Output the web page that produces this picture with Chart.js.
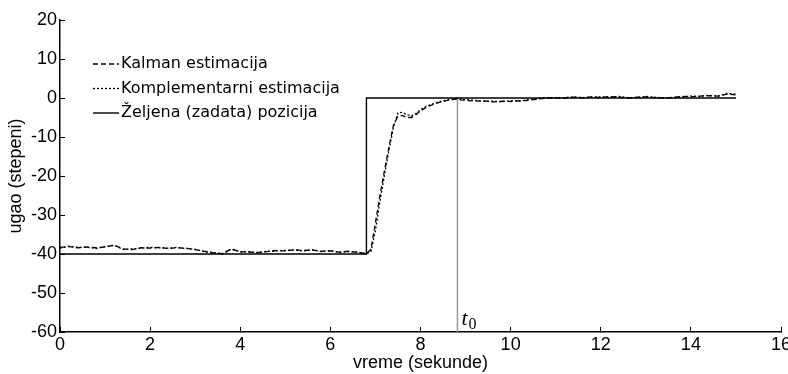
<!DOCTYPE html>
<html>
<head>
<meta charset="utf-8">
<script src="https://cdn.jsdelivr.net/npm/chart.js@4"></script>
<style>
    html, body { margin: 0; padding: 0; background: #fff; }
    #wrap { width: 788px; height: 374px; }
</style>
</head>
<body>
<div id="wrap"><canvas id="grafik"></canvas></div>
<script>
// vreme (s) zajednicko za obe estimacije
const vreme = [
    0, 0.2, 0.4, 0.6, 0.8, 1, 1.2, 1.4, 1.6, 1.8, 2, 2.2, 2.4, 2.6, 2.8, 3, 3.2, 3.4, 3.6, 3.8,
    4, 4.2, 4.4, 4.6, 4.8, 5, 5.2, 5.4, 5.6, 5.8, 6, 6.2, 6.4, 6.6, 6.8,
    6.9, 7, 7.1, 7.2, 7.3, 7.4, 7.5, 7.6, 7.7, 7.8, 7.9, 8, 8.1, 8.2, 8.3, 8.4, 8.5, 8.6, 8.7, 8.8, 8.9, 9,
    9.2, 9.4, 9.6, 9.8, 10, 10.2, 10.4, 10.6, 10.8, 11, 11.2, 11.4, 11.6, 11.8, 12, 12.2, 12.4, 12.6, 12.8,
    13, 13.2, 13.4, 13.6, 13.8, 14, 14.2, 14.4, 14.6, 14.8, 15
];
const kalman = [
    -38.3, -38.1, -38.4, -38.2, -38.4, -38.2, -37.7, -38.7, -38.9, -38.4, -38.5, -38.3, -38.6, -38.4, -38.5, -38.9, -39.3, -39.7, -39.9, -38.7,
    -39.4, -39.5, -39.6, -39.4, -39.1, -39.2, -38.9, -39.1, -39.0, -39.3, -39.2, -39.5, -39.3, -39.6, -39.9,
    -38.8, -32.0, -25.0, -18.6, -12.6, -7.0, -4.6, -4.5, -5.0, -5.0, -4.3, -3.3, -2.6, -2.0, -1.6, -1.2, -0.9, -0.6, -0.4, -0.3, -0.5, -0.6,
    -0.8, -0.7, -1.0, -0.8, -0.9, -0.7, -0.6, -0.3, 0.0, 0.1, -0.1, 0.2, 0.1, 0.3, 0.1, 0.4, 0.2, 0.0, 0.2,
    0.3, 0.1, -0.1, 0.2, 0.4, 0.3, 0.5, 0.6, 0.5, 1.0, 0.8
];
const komplementarni = [
    -38.5, -38.0, -38.3, -38.3, -38.6, -38.1, -37.8, -38.8, -38.7, -38.5, -38.3, -38.4, -38.5, -38.3, -38.6, -38.8, -39.4, -39.6, -40.0, -38.8,
    -39.5, -39.4, -39.7, -39.3, -39.2, -39.1, -39.0, -39.2, -38.9, -39.4, -39.1, -39.6, -39.4, -39.5, -40.0,
    -39.4, -34.0, -26.5, -19.8, -13.4, -7.5, -3.8, -3.7, -4.3, -4.6, -4.0, -3.0, -2.3, -1.8, -1.4, -1.0, -0.7, -0.5, -0.2, -0.1, -0.3, -0.4,
    -0.6, -0.9, -0.8, -1.0, -0.7, -0.8, -0.4, -0.2, 0.1, 0.0, 0.1, 0.3, 0.0, 0.2, 0.3, 0.2, 0.4, 0.1, 0.1,
    0.4, 0.2, 0.0, 0.1, 0.3, 0.5, 0.4, 0.7, 0.4, 1.2, 1.0
];
// zeljena (zadata) pozicija - odskocna funkcija
const zeljenaVreme = [0, 6.8, 6.8, 15];
const zeljenaUgao = [-40, -40, 0, 0];
// trenutak t0
const t0 = 8.82;

const xTicks = [0, 2, 4, 6, 8, 10, 12, 14, 16];
const yTicks = [20, 10, 0, -10, -20, -30, -40, -50, -60];
const naziviSerija = ["Kalman estimacija", "Komplementarni estimacija", "Željena (zadata) pozicija"];

const parovi = (xs, ys) => xs.map((x, i) => ({ x: x, y: ys[i] }));

// legenda unutar grafika, kao u originalu
const legendaPlugin = {
    id: "legenda",
    afterDraw(chart) {
        const c = chart.ctx;
        const x0 = 93, x1 = 119, y0 = 64, dy = 24.5;
        c.save();
        c.font = "16px 'DejaVu Sans'";
        c.textBaseline = "middle";
        c.fillStyle = "#000";
        chart.data.datasets.forEach((ds, i) => {
            if (!ds.uLegendi) return;
            const y = y0 + i * dy;
            c.beginPath();
            c.setLineDash(ds.borderDash || []);
            c.lineWidth = ds.borderWidth;
            c.strokeStyle = ds.borderColor;
            c.moveTo(x0, y);
            c.lineTo(x1, y);
            c.stroke();
            c.setLineDash([]);
            c.fillText(ds.label, x1 + 2, y);
        });
        c.restore();
    }
};

// oznaka t0 pored vertikalne linije
const t0Plugin = {
    id: "oznakaT0",
    afterDraw(chart) {
        const c = chart.ctx;
        const px = chart.scales.x.getPixelForValue(t0);
        const py = chart.scales.y.getPixelForValue(-60);
        c.save();
        c.fillStyle = "#000";
        c.textBaseline = "alphabetic";
        c.font = "italic 22px 'Liberation Serif'";
        c.fillText("t", px + 4, py - 7);
        const w = c.measureText("t").width;
        c.font = "16px 'Liberation Serif'";
        c.fillText("0", px + 4 + w + 1, py - 3);
        c.restore();
    }
};

const fontOsa = { family: "'Liberation Sans', Arial, sans-serif", size: 18 };

new Chart(document.getElementById("grafik"), {
    type: "line",
    data: {
        datasets: [
            {
                label: naziviSerija[0],
                data: parovi(vreme, kalman),
                borderColor: "#000",
                borderWidth: 1.3,
                borderDash: [5, 3],
                pointRadius: 0,
                tension: 0,
                uLegendi: true
            },
            {
                label: naziviSerija[1],
                data: parovi(vreme, komplementarni),
                borderColor: "#000",
                borderWidth: 1.3,
                borderDash: [2, 2],
                pointRadius: 0,
                tension: 0,
                uLegendi: true
            },
            {
                label: naziviSerija[2],
                data: parovi(zeljenaVreme, zeljenaUgao),
                borderColor: "#000",
                borderWidth: 1.4,
                pointRadius: 0,
                tension: 0,
                uLegendi: true
            },
            {
                label: "t0",
                data: parovi([t0, t0], [0, -60]),
                borderColor: "#9a9a9a",
                borderWidth: 1.5,
                pointRadius: 0,
                uLegendi: false
            }
        ]
    },
    options: {
        responsive: true,
        maintainAspectRatio: false,
        animation: false,
        events: [],
        layout: { padding: { left: 0, right: 7, top: 20, bottom: 0 } },
        plugins: {
            legend: { display: false },
            tooltip: { enabled: false }
        },
        scales: {
            x: {
                type: "linear",
                min: 0,
                max: 16,
                afterBuildTicks: s => { s.ticks = xTicks.map(v => ({ value: v })); },
                afterFit: s => { s.height = 42; s.paddingLeft = 0; s.paddingRight = 0; },
                border: { display: true, color: "#000", width: 1.5 },
                grid: { drawOnChartArea: false, drawTicks: true, tickLength: -5, color: "#000", tickColor: "#000", tickWidth: 1 },
                ticks: { color: "#000", font: fontOsa, padding: 7, maxRotation: 0, autoSkip: false },
                title: { display: true, text: "vreme (sekunde)", color: "#000", font: fontOsa, padding: { top: 0, bottom: 0 } }
            },
            y: {
                min: -60,
                max: 20,
                afterBuildTicks: s => { s.ticks = yTicks.map(v => ({ value: v })); },
                afterFit: s => { s.width = 60; s.paddingTop = 0; s.paddingBottom = 0; },
                border: { display: true, color: "#000", width: 1.5 },
                grid: { drawOnChartArea: false, drawTicks: true, tickLength: -5, color: "#000", tickColor: "#000", tickWidth: 1 },
                ticks: { color: "#000", font: fontOsa, padding: 8, autoSkip: false },
                title: { display: true, text: "ugao (stepeni)", color: "#000", font: fontOsa, padding: { top: 5, bottom: 0 } }
            }
        }
    },
    plugins: [legendaPlugin, t0Plugin]
});
</script>
</body>
</html>
